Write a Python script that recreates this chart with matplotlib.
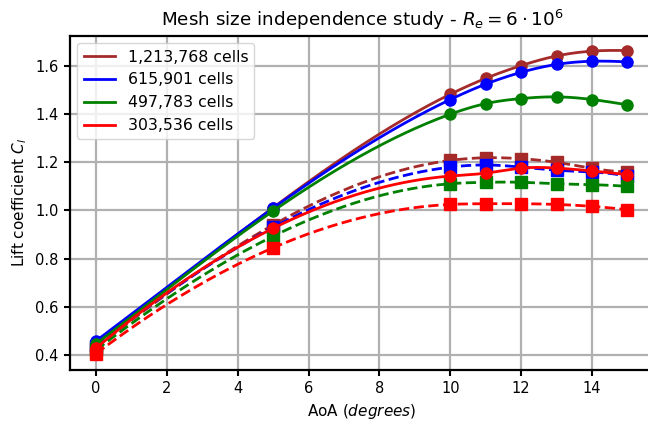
import numpy as np
import matplotlib
matplotlib.use("Agg")
import matplotlib.pyplot as plt

aoa = [0, 5, 10, 11, 12, 13, 14, 15]
labels = ["1,213,768 cells", "615,901 cells", "497,783 cells", "303,536 cells"]
colors = ["#a52a2a", "blue", "green", "red"]

cl_solid = {
    "1,213,768 cells": [0.455, 1.012, 1.483, 1.549, 1.602, 1.642, 1.662, 1.664],
    "615,901 cells":   [0.458, 1.010, 1.461, 1.525, 1.574, 1.607, 1.620, 1.617],
    "497,783 cells":   [0.445, 0.998, 1.400, 1.444, 1.465, 1.472, 1.461, 1.439],
    "303,536 cells":   [0.428, 0.926, 1.143, 1.155, 1.176, 1.176, 1.164, 1.149],
}
cl_dashed = {
    "1,213,768 cells": [0.430, 0.940, 1.208, 1.219, 1.215, 1.200, 1.175, 1.161],
    "615,901 cells":   [0.437, 0.930, 1.180, 1.189, 1.180, 1.167, 1.160, 1.142],
    "497,783 cells":   [0.420, 0.893, 1.111, 1.117, 1.117, 1.111, 1.107, 1.100],
    "303,536 cells":   [0.405, 0.845, 1.025, 1.028, 1.028, 1.025, 1.017, 1.003],
}


def spline(x, y, xs):
    """Not-a-knot cubic spline through (x, y), evaluated at xs."""
    x = np.asarray(x, float)
    y = np.asarray(y, float)
    n = len(x)
    h = np.diff(x)
    A = np.zeros((n, n))
    b = np.zeros(n)
    A[0, 0], A[0, 1], A[0, 2] = h[1], -(h[0] + h[1]), h[0]
    A[-1, -3], A[-1, -2], A[-1, -1] = h[-1], -(h[-2] + h[-1]), h[-2]
    for i in range(1, n - 1):
        A[i, i - 1] = h[i - 1]
        A[i, i] = 2 * (h[i - 1] + h[i])
        A[i, i + 1] = h[i]
        b[i] = 6 * ((y[i + 1] - y[i]) / h[i] - (y[i] - y[i - 1]) / h[i - 1])
    M = np.linalg.solve(A, b)
    idx = np.clip(np.searchsorted(x, xs) - 1, 0, n - 2)
    x0, x1 = x[idx], x[idx + 1]
    hh = x1 - x0
    return (M[idx] * (x1 - xs) ** 3 / (6 * hh) + M[idx + 1] * (xs - x0) ** 3 / (6 * hh)
            + (y[idx] / hh - M[idx] * hh / 6) * (x1 - xs)
            + (y[idx + 1] / hh - M[idx + 1] * hh / 6) * (xs - x0))


W, H = 648, 421
fig = plt.figure(figsize=(W / 100, H / 100), dpi=100)
left, right, top, bottom = 69.5, 654.0, 35.5, 370.0
ax = fig.add_axes([left / W, (H - bottom) / H, (right - left) / W, (bottom - top) / H])

xs = np.linspace(min(aoa), max(aoa), 400)
for lab, c in zip(labels, colors):
    ys = spline(aoa, cl_solid[lab], xs)
    ax.plot(xs, ys, color=c, lw=2, label=lab, zorder=3)
    ax.plot(aoa, cl_solid[lab], "o", color=c, ms=8, zorder=3)
    yd = spline(aoa, cl_dashed[lab], xs)
    ax.plot(xs, yd, "--", color=c, lw=2, zorder=3)
    ax.plot(aoa, cl_dashed[lab], "s", color=c, ms=8, zorder=3)

ax.set_xlim(-0.75, 15.75)
ax.set_ylim(0.337, 1.727)
ax.set_xticks([0, 2, 4, 6, 8, 10, 12, 14])
ax.set_yticks([0.4, 0.6, 0.8, 1.0, 1.2, 1.4, 1.6])
ax.grid(True, color="#b0b0b0", lw=1.6)
ax.set_axisbelow(True)
for s in ax.spines.values():
    s.set_linewidth(1.6)
ax.spines["right"].set_visible(False)
ax.tick_params(width=1.5, length=4.5, labelsize=10.5)

ax.set_title(r"Mesh size independence study - $R_e = 6 \cdot 10^6$", fontsize=13.2, pad=7)
ax.set_xlabel(r"AoA ($degrees$)", fontsize=11)
ax.set_ylabel(r"Lift coefficient $C_l$", fontsize=11)
ax.legend(loc="upper left", fontsize=11.3, handlelength=2.0, framealpha=0.8)

fig.savefig("out.png", dpi=100)
